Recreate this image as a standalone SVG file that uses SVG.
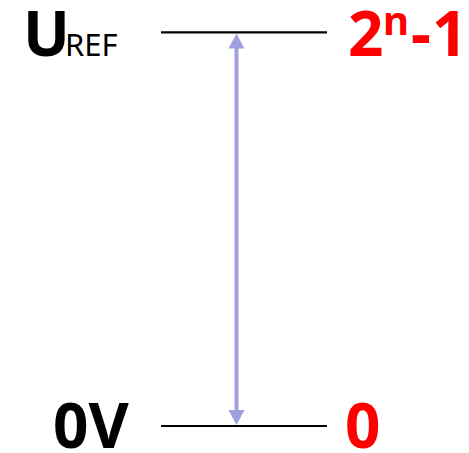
<svg xmlns="http://www.w3.org/2000/svg" width="469" height="453" viewBox="0 0 469 453">
<style>
.t{font-family:"Noto Sans","DejaVu Sans",sans-serif;font-weight:bold;}
.n{font-family:"Noto Sans","DejaVu Sans",sans-serif;font-weight:normal;}
.lvl{stroke:#000;stroke-width:2.2;}
.r{fill:#ff0000;}
.arr{fill:#a0a0e0;}
</style>
<g id="connectors">
<line x1="236.5" y1="47" x2="236.5" y2="411" stroke="#a0a0e0" stroke-width="4"/>
<path class="arr" d="M228.5,48.5 L236.5,33.5 L244.5,48.5 z"/>
<path class="arr" d="M228.5,410 L236.5,425 L244.5,410 z"/>
</g>
<g id="top-level">
<line class="lvl" x1="161" y1="32.3" x2="327" y2="32.3"/>
<text x="23" y="55.5" class="t" font-size="62">U</text>
<text x="65" y="55.5" class="n" font-size="31">REF</text>
<text x="348" y="55.5" class="t r" font-size="62">2</text>
<text x="383" y="35" class="t r" font-size="40">n</text>
<text x="411" y="55.5" class="t r" font-size="62">-</text>
<text x="432" y="55.5" class="t r" font-size="62">1</text>
</g>
<g id="bottom-level">
<line class="lvl" x1="161" y1="426" x2="327" y2="426"/>
<text x="53" y="447.5" class="t" font-size="62">0V</text>
<text x="345" y="447.5" class="t r" font-size="62">0</text>
</g>
</svg>
